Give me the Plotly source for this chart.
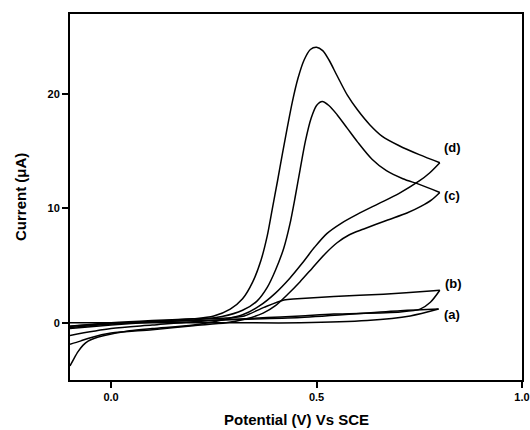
import plotly.graph_objects as go

# Curve (d)
d_fwd_x = [-0.1, -0.05, 0.0, 0.1, 0.2, 0.25, 0.29, 0.32, 0.345, 0.365, 0.38, 0.392, 0.405, 0.417, 0.429, 0.441, 0.455, 0.47, 0.485, 0.5, 0.515, 0.53, 0.55, 0.575, 0.6, 0.63, 0.66, 0.7, 0.75, 0.80]
d_fwd_y = [-0.4, -0.25, -0.1, 0.12, 0.35, 0.6, 1.2, 2.1, 3.6, 5.5, 7.6, 9.9, 12.4, 14.8, 17.1, 19.3, 21.4, 23.0, 23.9, 24.1, 23.8, 23.0, 21.6, 19.9, 18.6, 17.3, 16.3, 15.5, 14.7, 14.0]
d_rev_x = [0.80, 0.775, 0.75, 0.70, 0.65, 0.60, 0.56, 0.525, 0.495, 0.465, 0.435, 0.40, 0.36, 0.32, 0.27, 0.2, 0.1, 0.045, -0.019, -0.04, -0.056, -0.068, -0.08, -0.09, -0.1]
d_rev_y = [14.0, 13.1, 12.4, 11.3, 10.4, 9.5, 8.7, 7.8, 6.6, 5.2, 3.9, 2.6, 1.45, 0.7, 0.25, -0.2, -0.5, -0.7, -1.14, -1.35, -1.6, -1.95, -2.5, -3.1, -3.77]

# Curve (c)
c_fwd_x = [-0.1, 0.0, 0.1, 0.2, 0.27, 0.32, 0.355, 0.38, 0.40, 0.42, 0.435, 0.448, 0.46, 0.473, 0.487, 0.50, 0.514, 0.53, 0.55, 0.575, 0.60, 0.635, 0.67, 0.71, 0.75, 0.80]
c_fwd_y = [-0.5, -0.2, 0.05, 0.25, 0.55, 1.1, 1.9, 3.1, 4.6, 6.5, 8.6, 11.0, 13.4, 15.9, 17.9, 19.0, 19.35, 19.0, 18.2, 17.0, 15.8, 14.3, 13.3, 12.6, 12.1, 11.4]
c_rev_x = [0.80, 0.78, 0.755, 0.72, 0.67, 0.615, 0.58, 0.55, 0.52, 0.49, 0.46, 0.43, 0.40, 0.37, 0.33, 0.28, 0.2, 0.1, 0.0, -0.05, -0.075, -0.1]
c_rev_y = [11.4, 10.75, 10.2, 9.6, 8.95, 8.2, 7.7, 7.0, 6.0, 4.8, 3.6, 2.5, 1.5, 0.85, 0.35, 0.0, -0.25, -0.6, -0.9, -1.3, -1.6, -1.87]

# Curve (b)
b_fwd_x = [-0.1, 0.0, 0.1, 0.2, 0.28, 0.324, 0.372, 0.421, 0.453, 0.542, 0.663, 0.785, 0.80]
b_fwd_y = [-0.3, 0.0, 0.2, 0.35, 0.42, 0.6, 1.35, 2.0, 2.1, 2.3, 2.5, 2.8, 2.85]
b_rev_x = [0.80, 0.777, 0.752, 0.704, 0.542, 0.461, 0.38, 0.2, 0.1, 0.0, -0.1]
b_rev_y = [2.85, 1.8, 1.2, 0.95, 0.76, 0.6, 0.46, 0.1, -0.2, -0.5, -1.1]

# Curve (a)
a_fwd_x = [-0.1, 0.1, 0.3, 0.461, 0.623, 0.728, 0.797]
a_fwd_y = [0.0, 0.0, 0.0, 0.0, 0.2, 0.6, 1.2]
a_rev_x = [0.797, 0.704, 0.461, 0.3, 0.1, 0.0, -0.1]
a_rev_y = [1.2, 1.05, 0.46, 0.3, 0.1, -0.05, -0.3]

labels = ["(d)", "(c)", "(b)", "(a)"]
label_x = [0.805, 0.805, 0.808, 0.805]
label_y = [15.3, 11.1, 3.4, 0.75]

x_ticks = [0.0, 0.5, 1.0]
x_ticklabels = ["0.0", "0.5", "1.0"]
y_ticks = [0, 10, 20]
y_ticklabels = ["0", "10", "20"]

FONT = "Liberation Sans"

fig = go.Figure()
for xs, ys in [(d_fwd_x, d_fwd_y), (d_rev_x, d_rev_y), (c_fwd_x, c_fwd_y), (c_rev_x, c_rev_y),
               (b_fwd_x, b_fwd_y), (b_rev_x, b_rev_y), (a_fwd_x, a_fwd_y), (a_rev_x, a_rev_y)]:
    fig.add_trace(go.Scatter(x=xs, y=ys, mode="lines",
                             line=dict(color="black", width=1.5, shape="spline", smoothing=0.8),
                             showlegend=False, hoverinfo="skip"))

for t, lx, ly in zip(labels, label_x, label_y):
    fig.add_annotation(x=lx, y=ly, text=t, showarrow=False, xanchor="left", yanchor="middle",
                       font=dict(family=FONT, size=13, color="black", weight="bold"))

fig.add_annotation(x=0.5, y=0, xref="paper", yref="paper", yshift=-39, xanchor="center", yanchor="middle",
                   text="Potential (V) Vs SCE", showarrow=False,
                   font=dict(family=FONT, size=15, color="black", weight="bold"))
fig.add_annotation(xref="paper", yref="paper", x=0, y=0.5, xshift=-50, xanchor="center", yanchor="middle",
                   text="Current (\u03bcA)", textangle=-90, showarrow=False,
                   font=dict(family=FONT, size=15, color="black", weight="bold"))

axis_common = dict(showgrid=False, zeroline=False, showline=True, linecolor="black", linewidth=2,
                   mirror=True, ticks="outside", ticklen=6, tickwidth=2, tickcolor="black",
                   automargin=False,
                   tickfont=dict(family=FONT, size=11, color="black", weight="bold"))

fig.update_xaxes(range=[-0.1, 1.0], tickvals=x_ticks, ticktext=x_ticklabels, **axis_common)
fig.update_yaxes(range=[-5, 27], tickvals=y_ticks, ticktext=y_ticklabels, **axis_common)

fig.update_layout(width=530, height=430, margin=dict(l=70, r=8, t=14, b=50, autoexpand=False),
                  paper_bgcolor="white", plot_bgcolor="white")

fig.write_html("out.html")
